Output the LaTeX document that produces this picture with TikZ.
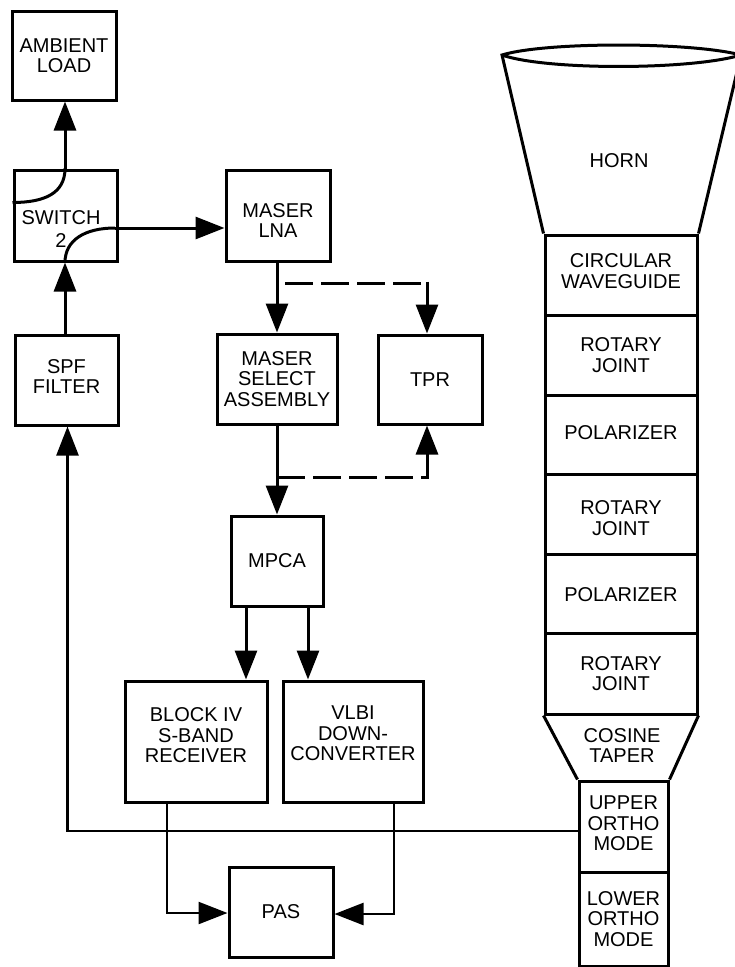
\documentclass[tikz,border=0pt]{standalone}
\usepackage{fontspec}
\setmainfont{Liberation Sans}
\usetikzlibrary{arrows.meta,calc}
\newcommand\pdn[1]{\rule{0pt}{#1pt}}
\newcommand\pup[1]{\rule[-#1pt]{0pt}{#1pt}}
\tikzset{
  box/.style={draw,line width=3pt,align=center,inner sep=0pt,font=\fontsize{20}{20.5}\selectfont,fill=none,line join=miter},
  lbl/.style={align=center,inner sep=0pt,font=\fontsize{20}{20.5}\selectfont},
  wire/.style={line width=3pt},
  thinwire/.style={line width=2.4pt},
  flow/.style={line width=3pt,-{Triangle[length=29pt,width=22pt]}},
  thinflow/.style={line width=2.4pt,-{Triangle[length=29pt,width=22pt]}},
  dashwire/.style={line width=3pt,dash pattern=on 28pt off 8pt},
  shell/.style={line width=3pt,line join=miter}
}
\begin{document}
\begin{tikzpicture}[x=1pt,y=-1pt]
\useasboundingbox (0,0) rectangle (735,967);
% left column
\node[box,minimum width=104,minimum height=89] (amb) at (64,55.5) {AMBIENT\\LOAD};
\node[box,minimum width=103,minimum height=91] (sw) at (65.5,215.5) {\pdn{41}\hspace*{-9pt}SWITCH\\[2pt]\hspace*{-9pt}2};
\node[box,minimum width=104,minimum height=91] (lna) at (278,215.5) {\pdn{24}MASER\\LNA};
\node[box,minimum width=103,minimum height=90] (spf) at (66.5,380) {SPF\\FILTER\pup{7}};
\node[box,minimum width=120,minimum height=90] (sel) at (277,379) {MASER\\SELECT\\ASSEMBLY};
\node[box,minimum width=104,minimum height=89] (tpr) at (430,379.5) {TPR};
\node[box,minimum width=92,minimum height=90] (mpca) at (277,561) {MPCA};
\node[box,minimum width=142,minimum height=121] (blk) at (196,741.5) {BLOCK IV\\S-BAND\\RECEIVER\pup{12}};
\node[box,minimum width=140,minimum height=121] (vlbi) at (353,741.5) {VLBI\\DOWN-\\CONVERTER\pup{16}};
\node[box,minimum width=104,minimum height=90] (pas) at (281,912) {PAS};
% waveguide chain
\node[box,minimum width=152,minimum height=80] (cw) at (621,275) {CIRCULAR\\WAVEGUIDE\pup{8}};
\node[box,minimum width=152,minimum height=80] (rj1) at (621,355) {ROTARY\\JOINT};
\node[box,minimum width=152,minimum height=79] (pol1) at (621,434.5) {POLARIZER\pup{3}};
\node[box,minimum width=152,minimum height=80] (rj2) at (621,514) {\pdn{22}ROTARY\\JOINT};
\node[box,minimum width=152,minimum height=79] (pol2) at (621,593.5) {\pdn{17}POLARIZER};
\node[box,minimum width=152,minimum height=81] (rj3) at (621,673.5) {ROTARY\\JOINT};
\node[box,minimum width=89,minimum height=91] (uom) at (623.5,826.5) {UPPER\\ORTHO\\MODE\pup{6}};
\node[box,minimum width=89,minimum height=94] (lom) at (623.5,919) {LOWER\\ORTHO\\MODE};
\node[lbl] (horn) at (619,161) {HORN};
\node[lbl] (cos) at (622,745.5) {COSINE\\[-1pt]TAPER};
% horn
\coordinate (hl) at (502,55);
\coordinate (hr) at (741,55);
\draw[shell] (cw.north west) -- (hl) .. controls (545,41.7) and (690,41.7) .. (hr)
  .. controls (690,70.3) and (545,70.3) .. (hl);
\draw[shell] (cw.north east) -- (hr);
% taper
\draw[shell] (rj3.south west) -- (uom.north west);
\draw[shell] (rj3.south east) -- (uom.north east);
% column guides
\coordinate (xa) at (65,0);
\coordinate (xb) at (67.5,0);
\coordinate (xc) at (277,0);
\coordinate (xd) at (427,0);
\coordinate (xe) at (246,0);
\coordinate (xf) at (308,0);
\coordinate (xg) at (167,0);
\coordinate (xh) at (394,0);
% switch paths
\coordinate (swL) at ($(sw.west)+(0,-13)$);
\draw[wire] (swL) .. controls (45,202.5) and (65,193) .. (sw.north -| xa);
\draw[flow] (sw.north -| xa) -- (amb.south -| xa);
\draw[flow] (spf.north -| xa) -- (sw.south -| xa);
\draw[wire] (sw.south -| xa) .. controls (65,240) and (85,228) .. (115,228);
\coordinate (swR) at (115,228);
\draw[flow] (swR) -- (swR -| lna.west);
% maser
\draw[flow] (lna.south -| xc) -- (sel.north -| xc);
\draw[flow] (sel.south -| xc) -- (mpca.north -| xc);
\coordinate (da) at (277,283);
\coordinate (db) at (277,477);
\draw[dashwire,dash phase=28pt] (da) -- (da -| xd);
\draw[flow] ($(da -| xd)+(0,-1.5)$) -- (tpr.north -| xd);
\draw[dashwire] (db) -- (db -| xd);
\draw[flow] ($(db -| xd)+(0,1.5)$) -- (tpr.south -| xd);
% receivers
\draw[flow] (mpca.south -| xe) -- (blk.north -| xe);
\draw[flow] (mpca.south -| xf) -- (vlbi.north -| xf);
\coordinate (pa) at (167,913);
\coordinate (pb) at (394,914);
\draw[thinflow] (blk.south -| xg) -- (pa) -- (pa -| pas.west);
\draw[thinflow] (vlbi.south -| xh) -- (pb) -- (pb -| pas.east);
% feedback
\coordinate (fb) at (uom.west |- 0,831);
\draw[thinflow] (fb) -- (fb -| xb) -- (spf.south -| xb);
\end{tikzpicture}
\end{document}
